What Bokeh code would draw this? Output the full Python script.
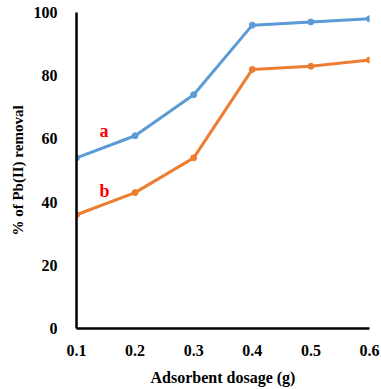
from bokeh.plotting import figure
from bokeh.models import Range1d, FixedTicker
from bokeh.core.properties import value
from bokeh.embed import file_html
from bokeh.resources import INLINE

dosage = [0.1, 0.2, 0.3, 0.4, 0.5, 0.6]
series_a = [54, 61, 74, 96, 97, 98]
series_b = [36, 43, 54, 82, 83, 85]
x_ticks = [0.1, 0.2, 0.3, 0.4, 0.5, 0.6]
y_ticks = [0, 20, 40, 60, 80, 100]
label_names = ["a", "b"]
label_x = [0.147, 0.148]
label_y = [62.5, 43.5]

FONT = "Liberation Serif"

p = figure(width=381, height=389, output_backend="svg", toolbar_location=None,
           x_range=Range1d(0.1, 0.6), y_range=Range1d(0, 100),
           min_border_left=76, min_border_right=12, min_border_top=12, min_border_bottom=61)
p.outline_line_color = None
p.xgrid.grid_line_color = None
p.ygrid.grid_line_color = None

p.line(dosage, series_a, line_color="#5B9BD5", line_width=3)
p.scatter(dosage, series_a, size=6, fill_color="#5B9BD5", line_color="#5B9BD5")
p.line(dosage, series_b, line_color="#ED7D31", line_width=3)
p.scatter(dosage, series_b, size=6, fill_color="#ED7D31", line_color="#ED7D31")

p.text(label_x, label_y, text=label_names, text_color="#FF0000", text_font=value(FONT),
       text_font_style="bold", text_font_size="18px", text_align="center", text_baseline="middle")

for ax in (p.xaxis[0], p.yaxis[0]):
    ax.axis_line_width = 2.5
    ax.axis_line_color = "black"
    ax.major_tick_line_color = None
    ax.minor_tick_line_color = None
    ax.major_label_text_font = FONT
    ax.major_label_text_font_style = "bold"
    ax.major_label_text_font_size = "16px"
    ax.major_label_text_color = "black"
    ax.axis_label_text_font = FONT
    ax.axis_label_text_font_style = "bold"
    ax.axis_label_text_color = "black"

p.xaxis.axis_label_text_font_size = "16px"
p.yaxis.axis_label_text_font_size = "15px"
p.xaxis.ticker = FixedTicker(ticks=x_ticks)
p.yaxis.ticker = FixedTicker(ticks=y_ticks)
p.xaxis.major_label_standoff = 10
p.yaxis.major_label_standoff = 13
p.xaxis.axis_label = "Adsorbent dosage (g)"
p.yaxis.axis_label = "% of Pb(II) removal"
p.xaxis.axis_label_standoff = 10
p.yaxis.axis_label_standoff = 5

open("out.html", "w").write(file_html(p, INLINE))
